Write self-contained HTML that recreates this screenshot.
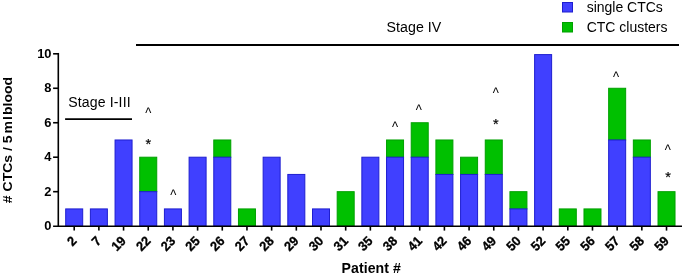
<!DOCTYPE html>
<html><head><meta charset="utf-8"><title>CTC chart</title>
<style>
html,body{margin:0;padding:0;background:#fff;}
svg{display:block;font-family:"Liberation Sans",sans-serif;}
.b{font-weight:bold;}
</style></head><body>
<svg width="685" height="275" viewBox="0 0 685 275">
<rect width="685" height="275" fill="#fff"/>

<rect x="65.70" y="208.92" width="17.0" height="17.23" fill="#4040ff" stroke="#1e1ed0" stroke-width="1"/>
<rect x="90.38" y="208.92" width="17.0" height="17.23" fill="#4040ff" stroke="#1e1ed0" stroke-width="1"/>
<rect x="115.06" y="139.98" width="17.0" height="86.17" fill="#4040ff" stroke="#1e1ed0" stroke-width="1"/>
<rect x="139.74" y="157.21" width="17.0" height="34.47" fill="#00c000" stroke="#00a000" stroke-width="1"/>
<rect x="139.74" y="191.68" width="17.0" height="34.47" fill="#4040ff" stroke="#1e1ed0" stroke-width="1"/>
<rect x="164.42" y="208.92" width="17.0" height="17.23" fill="#4040ff" stroke="#1e1ed0" stroke-width="1"/>
<rect x="189.10" y="157.21" width="17.0" height="68.94" fill="#4040ff" stroke="#1e1ed0" stroke-width="1"/>
<rect x="213.78" y="139.98" width="17.0" height="17.23" fill="#00c000" stroke="#00a000" stroke-width="1"/>
<rect x="213.78" y="157.21" width="17.0" height="68.94" fill="#4040ff" stroke="#1e1ed0" stroke-width="1"/>
<rect x="238.46" y="208.92" width="17.0" height="17.23" fill="#00c000" stroke="#00a000" stroke-width="1"/>
<rect x="263.14" y="157.21" width="17.0" height="68.94" fill="#4040ff" stroke="#1e1ed0" stroke-width="1"/>
<rect x="287.82" y="174.44" width="17.0" height="51.71" fill="#4040ff" stroke="#1e1ed0" stroke-width="1"/>
<rect x="312.50" y="208.92" width="17.0" height="17.23" fill="#4040ff" stroke="#1e1ed0" stroke-width="1"/>
<rect x="337.18" y="191.68" width="17.0" height="34.47" fill="#00c000" stroke="#00a000" stroke-width="1"/>
<rect x="361.86" y="157.21" width="17.0" height="68.94" fill="#4040ff" stroke="#1e1ed0" stroke-width="1"/>
<rect x="386.54" y="139.98" width="17.0" height="17.23" fill="#00c000" stroke="#00a000" stroke-width="1"/>
<rect x="386.54" y="157.21" width="17.0" height="68.94" fill="#4040ff" stroke="#1e1ed0" stroke-width="1"/>
<rect x="411.22" y="122.74" width="17.0" height="34.47" fill="#00c000" stroke="#00a000" stroke-width="1"/>
<rect x="411.22" y="157.21" width="17.0" height="68.94" fill="#4040ff" stroke="#1e1ed0" stroke-width="1"/>
<rect x="435.90" y="139.98" width="17.0" height="34.47" fill="#00c000" stroke="#00a000" stroke-width="1"/>
<rect x="435.90" y="174.44" width="17.0" height="51.71" fill="#4040ff" stroke="#1e1ed0" stroke-width="1"/>
<rect x="460.58" y="157.21" width="17.0" height="17.23" fill="#00c000" stroke="#00a000" stroke-width="1"/>
<rect x="460.58" y="174.44" width="17.0" height="51.71" fill="#4040ff" stroke="#1e1ed0" stroke-width="1"/>
<rect x="485.26" y="139.98" width="17.0" height="34.47" fill="#00c000" stroke="#00a000" stroke-width="1"/>
<rect x="485.26" y="174.44" width="17.0" height="51.71" fill="#4040ff" stroke="#1e1ed0" stroke-width="1"/>
<rect x="509.94" y="191.68" width="17.0" height="17.23" fill="#00c000" stroke="#00a000" stroke-width="1"/>
<rect x="509.94" y="208.92" width="17.0" height="17.23" fill="#4040ff" stroke="#1e1ed0" stroke-width="1"/>
<rect x="534.62" y="54.60" width="17.0" height="171.55" fill="#4040ff" stroke="#1e1ed0" stroke-width="1"/>
<rect x="559.30" y="208.92" width="17.0" height="17.23" fill="#00c000" stroke="#00a000" stroke-width="1"/>
<rect x="583.98" y="208.92" width="17.0" height="17.23" fill="#00c000" stroke="#00a000" stroke-width="1"/>
<rect x="608.66" y="88.27" width="17.0" height="51.70" fill="#00c000" stroke="#00a000" stroke-width="1"/>
<rect x="608.66" y="139.98" width="17.0" height="86.17" fill="#4040ff" stroke="#1e1ed0" stroke-width="1"/>
<rect x="633.34" y="139.98" width="17.0" height="17.23" fill="#00c000" stroke="#00a000" stroke-width="1"/>
<rect x="633.34" y="157.21" width="17.0" height="68.94" fill="#4040ff" stroke="#1e1ed0" stroke-width="1"/>
<rect x="658.02" y="191.68" width="17.0" height="34.47" fill="#00c000" stroke="#00a000" stroke-width="1"/>
<line x1="58.3" y1="52.95" x2="58.3" y2="226.9" stroke="#000" stroke-width="1.6"/>
<line x1="53.1" y1="226.15" x2="682" y2="226.15" stroke="#000" stroke-width="1.5"/>
<text class="b" font-size="12.9" text-anchor="end" transform="translate(51.50,230.30) scale(1,1.04)">0</text>
<line x1="53.1" y1="191.68" x2="58" y2="191.68" stroke="#000" stroke-width="1.6"/>
<text class="b" font-size="12.9" text-anchor="end" transform="translate(51.50,195.83) scale(1,1.04)">2</text>
<line x1="53.1" y1="157.21" x2="58" y2="157.21" stroke="#000" stroke-width="1.6"/>
<text class="b" font-size="12.9" text-anchor="end" transform="translate(51.50,161.36) scale(1,1.04)">4</text>
<line x1="53.1" y1="122.74" x2="58" y2="122.74" stroke="#000" stroke-width="1.6"/>
<text class="b" font-size="12.9" text-anchor="end" transform="translate(51.50,126.89) scale(1,1.04)">6</text>
<line x1="53.1" y1="88.27" x2="58" y2="88.27" stroke="#000" stroke-width="1.6"/>
<text class="b" font-size="12.9" text-anchor="end" transform="translate(51.50,92.42) scale(1,1.04)">8</text>
<line x1="53.1" y1="53.80" x2="58" y2="53.80" stroke="#000" stroke-width="1.6"/>
<text class="b" font-size="12.9" text-anchor="end" transform="translate(51.50,57.95) scale(1,1.04)">10</text>
<line x1="74.20" y1="226.15" x2="74.20" y2="230.6" stroke="#000" stroke-width="1.6"/>
<text class="b" stroke="#000" stroke-width="0.3" font-size="12.7" text-anchor="end" transform="translate(77.40,241.80) rotate(-45) scale(1,1.04)">2</text>
<line x1="98.88" y1="226.15" x2="98.88" y2="230.6" stroke="#000" stroke-width="1.6"/>
<text class="b" stroke="#000" stroke-width="0.3" font-size="12.7" text-anchor="end" transform="translate(102.08,241.80) rotate(-45) scale(1,1.04)">7</text>
<line x1="123.56" y1="226.15" x2="123.56" y2="230.6" stroke="#000" stroke-width="1.6"/>
<text class="b" stroke="#000" stroke-width="0.3" font-size="12.7" text-anchor="end" transform="translate(126.76,241.80) rotate(-45) scale(1,1.04)">19</text>
<line x1="148.24" y1="226.15" x2="148.24" y2="230.6" stroke="#000" stroke-width="1.6"/>
<text class="b" stroke="#000" stroke-width="0.3" font-size="12.7" text-anchor="end" transform="translate(151.44,241.80) rotate(-45) scale(1,1.04)">22</text>
<line x1="172.92" y1="226.15" x2="172.92" y2="230.6" stroke="#000" stroke-width="1.6"/>
<text class="b" stroke="#000" stroke-width="0.3" font-size="12.7" text-anchor="end" transform="translate(176.12,241.80) rotate(-45) scale(1,1.04)">23</text>
<line x1="197.60" y1="226.15" x2="197.60" y2="230.6" stroke="#000" stroke-width="1.6"/>
<text class="b" stroke="#000" stroke-width="0.3" font-size="12.7" text-anchor="end" transform="translate(200.80,241.80) rotate(-45) scale(1,1.04)">25</text>
<line x1="222.28" y1="226.15" x2="222.28" y2="230.6" stroke="#000" stroke-width="1.6"/>
<text class="b" stroke="#000" stroke-width="0.3" font-size="12.7" text-anchor="end" transform="translate(225.48,241.80) rotate(-45) scale(1,1.04)">26</text>
<line x1="246.96" y1="226.15" x2="246.96" y2="230.6" stroke="#000" stroke-width="1.6"/>
<text class="b" stroke="#000" stroke-width="0.3" font-size="12.7" text-anchor="end" transform="translate(250.16,241.80) rotate(-45) scale(1,1.04)">27</text>
<line x1="271.64" y1="226.15" x2="271.64" y2="230.6" stroke="#000" stroke-width="1.6"/>
<text class="b" stroke="#000" stroke-width="0.3" font-size="12.7" text-anchor="end" transform="translate(274.84,241.80) rotate(-45) scale(1,1.04)">28</text>
<line x1="296.32" y1="226.15" x2="296.32" y2="230.6" stroke="#000" stroke-width="1.6"/>
<text class="b" stroke="#000" stroke-width="0.3" font-size="12.7" text-anchor="end" transform="translate(299.52,241.80) rotate(-45) scale(1,1.04)">29</text>
<line x1="321.00" y1="226.15" x2="321.00" y2="230.6" stroke="#000" stroke-width="1.6"/>
<text class="b" stroke="#000" stroke-width="0.3" font-size="12.7" text-anchor="end" transform="translate(324.20,241.80) rotate(-45) scale(1,1.04)">30</text>
<line x1="345.68" y1="226.15" x2="345.68" y2="230.6" stroke="#000" stroke-width="1.6"/>
<text class="b" stroke="#000" stroke-width="0.3" font-size="12.7" text-anchor="end" transform="translate(348.88,241.80) rotate(-45) scale(1,1.04)">31</text>
<line x1="370.36" y1="226.15" x2="370.36" y2="230.6" stroke="#000" stroke-width="1.6"/>
<text class="b" stroke="#000" stroke-width="0.3" font-size="12.7" text-anchor="end" transform="translate(373.56,241.80) rotate(-45) scale(1,1.04)">35</text>
<line x1="395.04" y1="226.15" x2="395.04" y2="230.6" stroke="#000" stroke-width="1.6"/>
<text class="b" stroke="#000" stroke-width="0.3" font-size="12.7" text-anchor="end" transform="translate(398.24,241.80) rotate(-45) scale(1,1.04)">38</text>
<line x1="419.72" y1="226.15" x2="419.72" y2="230.6" stroke="#000" stroke-width="1.6"/>
<text class="b" stroke="#000" stroke-width="0.3" font-size="12.7" text-anchor="end" transform="translate(422.92,241.80) rotate(-45) scale(1,1.04)">41</text>
<line x1="444.40" y1="226.15" x2="444.40" y2="230.6" stroke="#000" stroke-width="1.6"/>
<text class="b" stroke="#000" stroke-width="0.3" font-size="12.7" text-anchor="end" transform="translate(447.60,241.80) rotate(-45) scale(1,1.04)">42</text>
<line x1="469.08" y1="226.15" x2="469.08" y2="230.6" stroke="#000" stroke-width="1.6"/>
<text class="b" stroke="#000" stroke-width="0.3" font-size="12.7" text-anchor="end" transform="translate(472.28,241.80) rotate(-45) scale(1,1.04)">46</text>
<line x1="493.76" y1="226.15" x2="493.76" y2="230.6" stroke="#000" stroke-width="1.6"/>
<text class="b" stroke="#000" stroke-width="0.3" font-size="12.7" text-anchor="end" transform="translate(496.96,241.80) rotate(-45) scale(1,1.04)">49</text>
<line x1="518.44" y1="226.15" x2="518.44" y2="230.6" stroke="#000" stroke-width="1.6"/>
<text class="b" stroke="#000" stroke-width="0.3" font-size="12.7" text-anchor="end" transform="translate(521.64,241.80) rotate(-45) scale(1,1.04)">50</text>
<line x1="543.12" y1="226.15" x2="543.12" y2="230.6" stroke="#000" stroke-width="1.6"/>
<text class="b" stroke="#000" stroke-width="0.3" font-size="12.7" text-anchor="end" transform="translate(546.32,241.80) rotate(-45) scale(1,1.04)">52</text>
<line x1="567.80" y1="226.15" x2="567.80" y2="230.6" stroke="#000" stroke-width="1.6"/>
<text class="b" stroke="#000" stroke-width="0.3" font-size="12.7" text-anchor="end" transform="translate(571.00,241.80) rotate(-45) scale(1,1.04)">55</text>
<line x1="592.48" y1="226.15" x2="592.48" y2="230.6" stroke="#000" stroke-width="1.6"/>
<text class="b" stroke="#000" stroke-width="0.3" font-size="12.7" text-anchor="end" transform="translate(595.68,241.80) rotate(-45) scale(1,1.04)">56</text>
<line x1="617.16" y1="226.15" x2="617.16" y2="230.6" stroke="#000" stroke-width="1.6"/>
<text class="b" stroke="#000" stroke-width="0.3" font-size="12.7" text-anchor="end" transform="translate(620.36,241.80) rotate(-45) scale(1,1.04)">57</text>
<line x1="641.84" y1="226.15" x2="641.84" y2="230.6" stroke="#000" stroke-width="1.6"/>
<text class="b" stroke="#000" stroke-width="0.3" font-size="12.7" text-anchor="end" transform="translate(645.04,241.80) rotate(-45) scale(1,1.04)">58</text>
<line x1="666.52" y1="226.15" x2="666.52" y2="230.6" stroke="#000" stroke-width="1.6"/>
<text class="b" stroke="#000" stroke-width="0.3" font-size="12.7" text-anchor="end" transform="translate(669.72,241.80) rotate(-45) scale(1,1.04)">59</text>
<text class="b" letter-spacing="0.06" font-size="14.1" text-anchor="middle" transform="translate(371.20,273.40) scale(1,1.02)">Patient #</text>
<text class="b" font-size="14" text-anchor="middle" transform="translate(11.60,140.00) rotate(-90) scale(1,0.96)"># CTCs / 5<tspan dx="2.1">m</tspan><tspan dx="1.0">l</tspan><tspan dx="-2.8"> </tspan>blood</text>
<text letter-spacing="0.05" font-size="14.2" text-anchor="start" transform="translate(386.50,31.90) scale(1,1.02)">Stage IV</text>
<line x1="136" y1="45" x2="679" y2="45" stroke="#000" stroke-width="1.9"/>
<text letter-spacing="0.12" font-size="14.1" text-anchor="start" transform="translate(68.30,107.10) scale(1,1.02)">Stage I-III</text>
<line x1="65.1" y1="119.1" x2="132" y2="119.1" stroke="#000" stroke-width="1.8"/>
<rect x="562.5" y="2.5" width="10" height="9.5" fill="#4040ff" stroke="#1e1ed0" stroke-width="1"/>
<rect x="562.5" y="22.5" width="10" height="9.5" fill="#00c000" stroke="#00a000" stroke-width="1"/>
<text font-size="14" text-anchor="start" transform="translate(586.70,11.50) scale(1,1.02)">single CTCs</text>
<text font-size="14" text-anchor="start" transform="translate(586.70,31.50) scale(1,1.02)">CTC clusters</text>
<text font-size="13" text-anchor="middle" transform="translate(148.40,117.50) scale(1,1.12)">^</text>
<text stroke="#000" stroke-width="0.2" font-size="14.5" text-anchor="middle" transform="translate(148.20,148.50) scale(1,1.02)">*</text>
<text font-size="13" text-anchor="middle" transform="translate(173.30,199.90) scale(1,1.12)">^</text>
<text font-size="13" text-anchor="middle" transform="translate(395.00,131.60) scale(1,1.12)">^</text>
<text font-size="13" text-anchor="middle" transform="translate(418.70,114.60) scale(1,1.12)">^</text>
<text font-size="13" text-anchor="middle" transform="translate(495.75,97.60) scale(1,1.12)">^</text>
<text stroke="#000" stroke-width="0.2" font-size="14.5" text-anchor="middle" transform="translate(495.75,128.80) scale(1,1.02)">*</text>
<text font-size="13" text-anchor="middle" transform="translate(616.10,81.60) scale(1,1.12)">^</text>
<text font-size="13" text-anchor="middle" transform="translate(667.90,154.50) scale(1,1.12)">^</text>
<text stroke="#000" stroke-width="0.2" font-size="14.5" text-anchor="middle" transform="translate(668.10,182.40) scale(1,1.02)">*</text>
</svg></body></html>
